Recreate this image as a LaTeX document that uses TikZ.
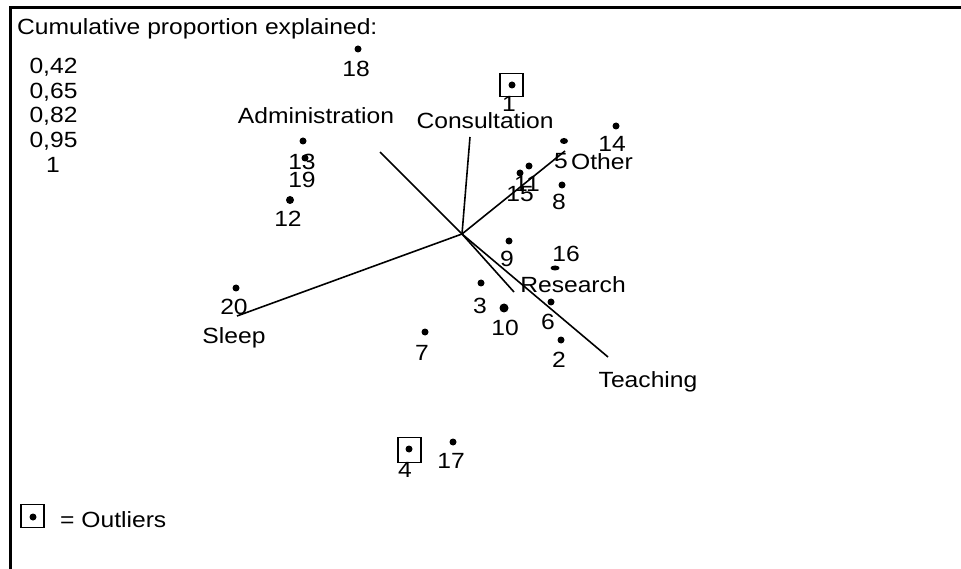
\documentclass[tikz,border=0pt]{standalone}
\usepackage{fontspec}
\usetikzlibrary{shapes.geometric}
\newfontfamily\arialish[FakeStretch=1.12]{Liberation Sans}
\begin{document}
\begin{tikzpicture}[x=1pt,y=-1pt,
  lbl/.style={anchor=base,inner sep=0pt,font=\arialish\fontsize{22}{26}\selectfont},
  lblw/.style={lbl,anchor=base west},
  pt/.style={circle,fill,inner sep=0pt,minimum size=7pt},
  obox/.style={draw,line width=1.2pt,minimum width=23pt,minimum height=23pt,inner sep=0pt},
  axisline/.style={line width=1.6pt},
  frameline/.style={line width=2.5pt}]
\useasboundingbox (0,0) rectangle (961,569);
% frame
\coordinate (fb) at (10.5,569);
\coordinate (fc) at (10.5,7.5);
\coordinate (fr) at (961,7.5);
\draw[frameline] (fb) -- (fc) -- (fr);
% header
\node[lblw] (title) at (17,35) {Cumulative proportion explained:};
\node[lbl] (v1) at (53.5,74) {0,42};
\node[lbl] (v2) at (53.5,98.5) {0,65};
\node[lbl] (v3) at (53.5,123) {0,82};
\node[lbl] (v4) at (53.5,148) {0,95};
\node[lbl] (v5) at (53,173) {1};
% axes
\coordinate (c) at (462,234);
\coordinate (eadm) at (380,152);
\coordinate (econ) at (470,137);
\coordinate (eoth) at (565,151);
\coordinate (eres) at (514,292);
\coordinate (etea) at (608,357);
\coordinate (eslp) at (237,316);
\draw[axisline] (c) -- (eadm);
\draw[axisline] (c) -- (econ);
\draw[axisline] (c) -- (eoth);
\draw[axisline] (c) -- (eres);
\draw[axisline] (c) -- (etea);
\draw[axisline] (c) -- (eslp);
\node[lbl] (adm) at (316,124) {Administration};
\node[lbl] (con) at (485,129) {Consultation};
\node[lbl] (oth) at (602,170) {Other};
\node[lbl] (res) at (573,293) {Research};
\node[lbl] (tea) at (648,387) {Teaching};
\node[lbl] (slp) at (234,343) {Sleep};
% points
\node[pt] (p18) at (358,49) {};
\node[lbl] (l18) at (356,77) {18};
\node[pt] (p13) at (303,141) {};
\node[lbl] (l13) at (302,170) {13};
\node[pt] (p19) at (305,158) {};
\node[lbl] (l19) at (302,188) {19};
\node[pt,minimum size=8pt] (p12) at (290,200) {};
\node[lbl] (l12) at (288,227) {12};
\node[pt] (p20) at (236,288) {};
\node[lbl] (l20) at (234,315) {20};
\node[pt] (p7) at (425,332) {};
\node[lbl] (l7) at (422,360) {7};
\node[obox] (b1) at (511.5,85) {};
\node[pt] (p1) at (512,85) {};
\node[lbl] (l1) at (509,112) {1};
\node[pt] (p14) at (616,126) {};
\node[lbl] (l14) at (612,152) {14};
\node[ellipse,fill,inner sep=0pt,minimum width=8pt,minimum height=6pt] (p5) at (564,141) {};
\node[lbl] (l5) at (561,169) {5};
\node[pt] (p11) at (529,166) {};
\node[lbl] (l11) at (527,192) {11};
\node[pt] (p15) at (520,173) {};
\node[lbl] (l15) at (520,202) {15};
\node[pt] (p8) at (562,185) {};
\node[lbl] (l8) at (559,210) {8};
\node[pt] (p9) at (509,241) {};
\node[lbl] (l9) at (507,267) {9};
\node[ellipse,fill,inner sep=0pt,minimum width=9pt,minimum height=5pt] (p16) at (555,268) {};
\node[lbl] (l16) at (566,262) {16};
\node[pt] (p3) at (481,283) {};
\node[lbl] (l3) at (480,313) {3};
\node[pt,minimum size=9pt] (p10) at (504,308) {};
\node[lbl] (l10) at (505,335) {10};
\node[pt] (p6) at (551,302) {};
\node[lbl] (l6) at (548,330) {6};
\node[pt] (p2) at (561,340) {};
\node[lbl] (l2) at (559,367) {2};
\node[obox,minimum height=25pt] (b4) at (409.5,450) {};
\node[pt] (p4) at (409,449) {};
\node[lbl] (l4) at (405,477) {4};
\node[pt] (p17) at (453,442) {};
\node[lbl] (l17) at (451,468) {17};
% legend
\node[obox] (lb) at (32.5,516) {};
\node[pt] (lp) at (33,517) {};
\node[lblw] (lt) at (60,527) {= Outliers};
\end{tikzpicture}
\end{document}
